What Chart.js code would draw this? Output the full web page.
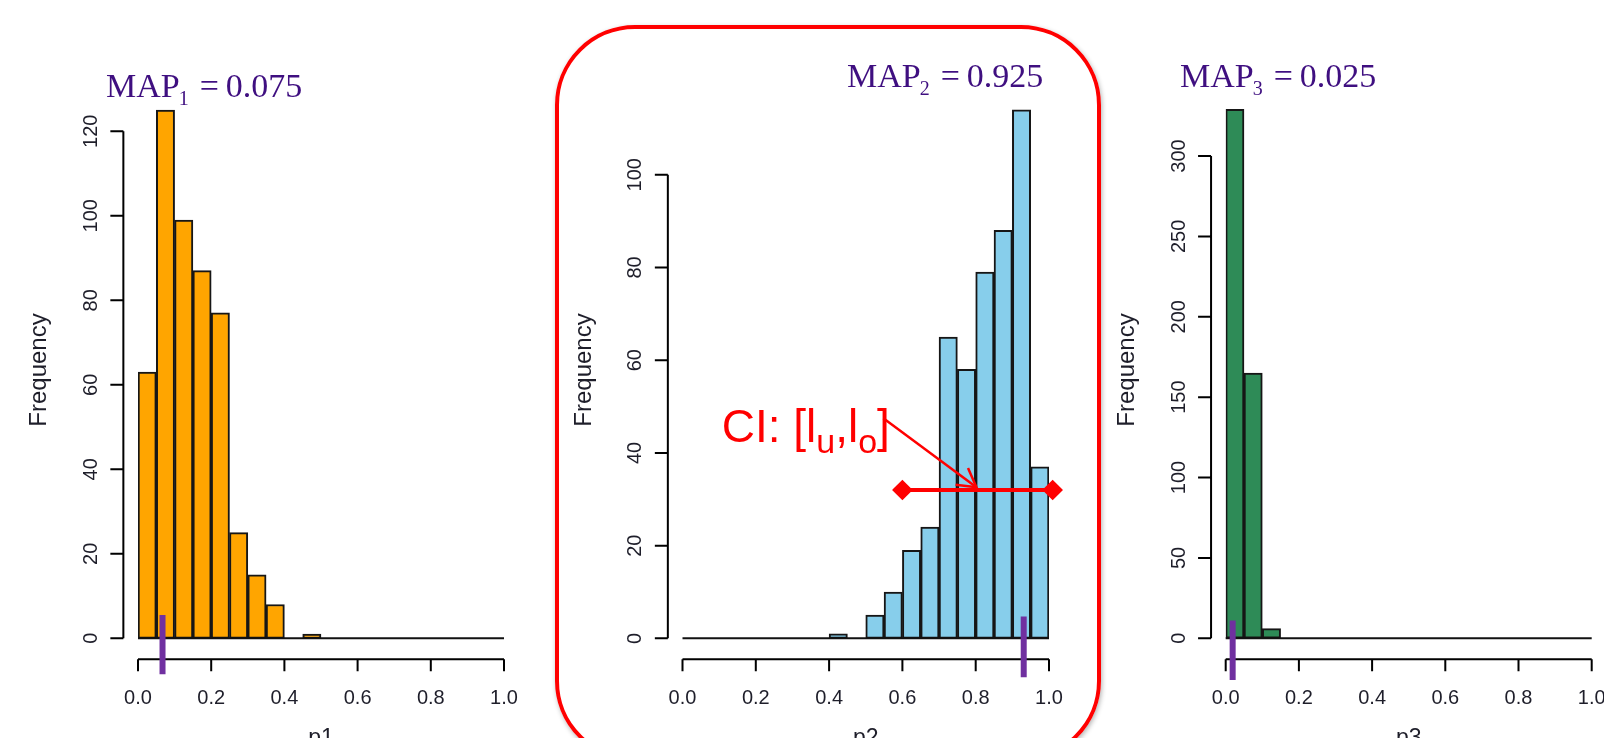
<!DOCTYPE html>
<html lang="en">
<head>
  <meta charset="UTF-8">
  <title>MAP histograms</title>
  <script src="https://cdn.jsdelivr.net/npm/chart.js"></script>
  <style>
    body {
      margin: 0;
      background: #fff;
      width: 1604px;
      height: 738px;
      overflow: hidden;
      position: relative;
    }

    .panel {
      position: absolute;
      top: 0;
      height: 738px;
    }

    /* red rounded frame around the middle histogram */
    #box {
      position: absolute;
      left: 555px;
      top: 25px;
      width: 546px;
      height: 736px;
      box-sizing: border-box;
      border: 4px solid #ff0000;
      border-radius: 80px;
      box-shadow: 1px 2px 5px rgba(0, 0, 0, 0.3);
    }
  </style>
</head>
<body>
  <div id="box"></div>
  <div class="panel" style="left:0;width:540px"><canvas id="c1"></canvas></div>
  <div class="panel" style="left:540px;width:560px"><canvas id="c2"></canvas></div>
  <div class="panel" style="left:1100px;width:504px"><canvas id="c3"></canvas></div>

<script>
  // histogram bins (left edges), width 0.05
  const binStarts = [0, 0.05, 0.1, 0.15, 0.2, 0.25, 0.3, 0.35, 0.4, 0.45,
                     0.5, 0.55, 0.6, 0.65, 0.7, 0.75, 0.8, 0.85, 0.9, 0.95];
  const binWidth = 0.05;

  const p1Counts = [63, 125, 99, 87, 77, 25, 15, 8, 0, 1, 0, 0, 0, 0, 0, 0, 0, 0, 0, 0];
  const p2Counts = [0, 0, 0, 0, 0, 0, 0, 0, 1, 0, 5, 10, 19, 24, 65, 58, 79, 88, 114, 37];
  const p3Counts = [329, 165, 6, 0, 0, 0, 0, 0, 0, 0, 0, 0, 0, 0, 0, 0, 0, 0, 0, 0];

  const xTicks = [0, 0.2, 0.4, 0.6, 0.8, 1.0];
  const xTickLabels = ['0.0', '0.2', '0.4', '0.6', '0.8', '1.0'];
  const yTicks1 = [0, 20, 40, 60, 80, 100, 120];
  const yTicks2 = [0, 20, 40, 60, 80, 100];
  const yTicks3 = [0, 50, 100, 150, 200, 250, 300];

  const mapLabels = ['0.075', '0.925', '0.025'];
  const mapMarkX = [0.067, 0.931, 0.019];
  const mapMark1 = [5.5, -8.5];
  const mapMark2 = [4.7, -8.4];
  const mapMark3 = [11, -26];

  const ciX = [0.6, 1.01];
  const ciY = 32;
  const ciArrowX = [0.548, 0.802];
  const ciArrowY = [47.5, 32.6];
  const ciLabelAt = [0.107, 42.4];

  const sans = '"Liberation Sans", Arial, sans-serif';
  const serif = '"Liberation Serif", "Times New Roman", serif';

  // R-style axes, titles and annotations
  const rStyle = {
    id: 'rStyle',
    beforeDatasetsDraw(chart, args, o) {
      const ctx = chart.ctx;
      const xs = chart.scales.x, ys = chart.scales.y;
      const axX = xs.getPixelForValue(-0.04);
      const axY = ys.getPixelForValue(0) + 21;
      const yt = o.yTicks;
      ctx.save();
      ctx.strokeStyle = '#000';
      ctx.lineWidth = 2;
      ctx.beginPath();
      ctx.moveTo(axX, ys.getPixelForValue(yt[0]));
      ctx.lineTo(axX, ys.getPixelForValue(yt[yt.length - 1]));
      yt.forEach(v => {
        const p = ys.getPixelForValue(v);
        ctx.moveTo(axX, p); ctx.lineTo(axX - 13, p);
      });
      ctx.moveTo(xs.getPixelForValue(xTicks[0]), axY);
      ctx.lineTo(xs.getPixelForValue(xTicks[xTicks.length - 1]), axY);
      xTicks.forEach(v => {
        const p = xs.getPixelForValue(v);
        ctx.moveTo(p, axY); ctx.lineTo(p, axY + 12);
      });
      ctx.stroke();

      ctx.fillStyle = '#1e1e2a';
      ctx.font = '20px ' + sans;
      ctx.textAlign = 'center';
      ctx.textBaseline = 'alphabetic';
      xTicks.forEach((v, i) => ctx.fillText(xTickLabels[i], xs.getPixelForValue(v), axY + 45));
      ctx.font = '23px ' + sans;
      ctx.fillText(o.xLabel, xs.getPixelForValue(0.5), axY + 86);
      ctx.font = '20px ' + sans;
      yt.forEach(v => {
        ctx.save();
        ctx.translate(axX - 26.5, ys.getPixelForValue(v));
        ctx.rotate(-Math.PI / 2);
        ctx.fillText(String(v), 0, 0);
        ctx.restore();
      });
      ctx.font = '24px ' + sans;
      ctx.translate(axX - 77, 370);
      ctx.rotate(-Math.PI / 2);
      ctx.fillText('Frequency', 0, 0);
      ctx.restore();
    },
    afterDraw(chart, args, o) {
      const ctx = chart.ctx;
      const xs = chart.scales.x, ys = chart.scales.y;
      ctx.save();
      // MAP title
      let x = o.titleX;
      const y = o.titleY;
      ctx.fillStyle = '#3f0f80';
      ctx.textAlign = 'left';
      ctx.textBaseline = 'alphabetic';
      ctx.font = '34px ' + serif;
      ctx.fillText('MAP', x, y);
      x += ctx.measureText('MAP').width - 1;
      ctx.font = '20px ' + serif;
      ctx.fillText(o.sub, x, y + 8);
      x += ctx.measureText(o.sub).width + 11;
      ctx.font = '34px ' + serif;
      ctx.fillText('=', x, y);
      x += ctx.measureText('=').width + 7;
      ctx.fillText(o.value, x, y);

      if (o.ci) {
        // arrow head
        const meta = chart.getDatasetMeta(o.arrowIndex).data;
        const a = meta[0], b = meta[meta.length - 1];
        const ang = Math.atan2(b.y - a.y, b.x - a.x);
        ctx.strokeStyle = '#ff0000';
        ctx.lineWidth = 2.5;
        ctx.beginPath();
        ctx.moveTo(b.x - 21 * Math.cos(ang - 0.52), b.y - 21 * Math.sin(ang - 0.52));
        ctx.lineTo(b.x, b.y);
        ctx.lineTo(b.x - 21 * Math.cos(ang + 0.52), b.y - 21 * Math.sin(ang + 0.52));
        ctx.stroke();

        // "CI: [lu,lo]" label
        let tx = xs.getPixelForValue(ciLabelAt[0]);
        const ty = ys.getPixelForValue(ciLabelAt[1]);
        ctx.fillStyle = '#ff0000';
        const parts = [['CI: [l', 0], ['u', 1], [',l', 0], ['o', 1], [']', 0]];
        parts.forEach(([t, isSub]) => {
          ctx.font = (isSub ? '34px ' : '46px ') + sans;
          ctx.fillText(t, tx, ty + (isSub ? 11 : 0));
          tx += ctx.measureText(t).width;
        });
      }
      ctx.restore();
    }
  };

  function histChart(id, counts, color, yTicks, yMin, yMax, pad, markX, markY, extra, opts) {
    const datasets = [
      {
        type: 'line',
        data: [{ x: markX, y: markY[0] }, { x: markX, y: markY[1] }],
        borderColor: '#7030a0',
        borderWidth: 6,
        borderCapStyle: 'butt',
        pointRadius: 0,
        clip: false,
        order: 0
      },
      {
        type: 'line',
        data: [{ x: 0, y: 0 }, { x: 1, y: 0 }],
        borderColor: '#111',
        borderWidth: 2,
        pointRadius: 0,
        clip: false,
        order: 2
      },
      {
        type: 'bar',
        data: binStarts.map((b, i) => ({ x: b + binWidth / 2, y: counts[i] })),
        backgroundColor: color,
        borderColor: '#161616',
        borderWidth: 2,
        borderSkipped: false,
        categoryPercentage: 1,
        barPercentage: 1,
        order: 3
      }
    ].concat(extra);

    return new Chart(document.getElementById(id), {
      type: 'bar',
      data: { datasets },
      options: {
        responsive: true,
        maintainAspectRatio: false,
        animation: false,
        events: [],
        layout: { padding: pad },
        scales: {
          x: { type: 'linear', min: 0, max: 1, offset: false, display: false },
          y: { type: 'linear', min: yMin, max: yMax, display: false }
        },
        plugins: {
          legend: { display: false },
          tooltip: { enabled: false },
          rStyle: Object.assign({ yTicks }, opts)
        }
      },
      plugins: [rStyle]
    });
  }

  histChart('c1', p1Counts, '#ffa500', yTicks1, -12, 130,
    { left: 138, right: 36, top: 89, bottom: 49 },
    mapMarkX[0], mapMark1, [],
    { xLabel: 'p1', titleX: 106, titleY: 97, sub: '1', value: mapLabels[0] });

  const ciSets = [
    {
      type: 'line',
      data: [{ x: ciX[0], y: ciY }, { x: ciX[1], y: ciY }],
      borderColor: '#ff0000',
      backgroundColor: '#ff0000',
      borderWidth: 4,
      pointStyle: 'rectRot',
      pointRadius: 7.5,
      clip: false,
      order: 1
    },
    {
      type: 'line',
      data: [{ x: ciArrowX[0], y: ciArrowY[0] }, { x: ciArrowX[1], y: ciArrowY[1] }],
      borderColor: '#ff0000',
      borderWidth: 2.5,
      pointRadius: 0,
      clip: false,
      order: 1
    }
  ];

  histChart('c2', p2Counts, '#87ceeb', yTicks2, -12, 120,
    { left: 142.5, right: 51, top: 82, bottom: 44 },
    mapMarkX[1], mapMark2, ciSets,
    { xLabel: 'p2', titleX: 307, titleY: 87, sub: '2', value: mapLabels[1], ci: true, arrowIndex: 4 });

  histChart('c3', p3Counts, '#2e8b57', yTicks3, -30, 340,
    { left: 125.7, right: 12.3, top: 91.7, bottom: 51.5 },
    mapMarkX[2], mapMark3, [],
    { xLabel: 'p3', titleX: 80, titleY: 87, sub: '3', value: mapLabels[2] });
</script>
</body>
</html>
